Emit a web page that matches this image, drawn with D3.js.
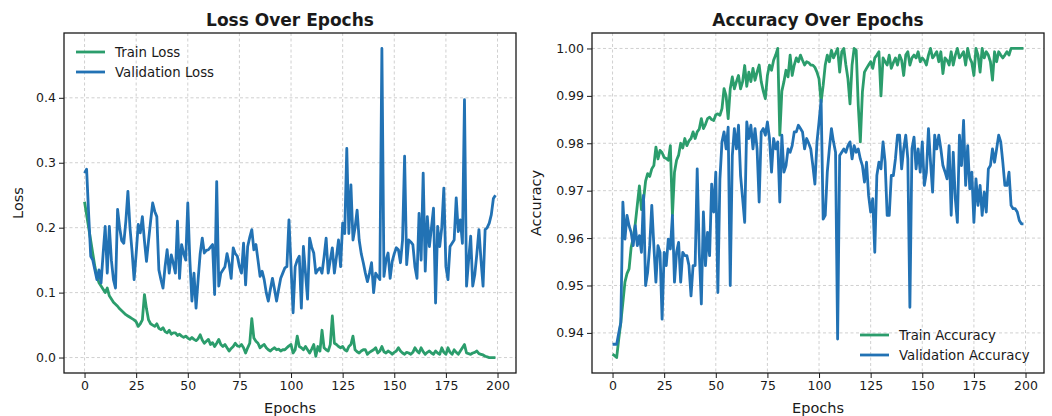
<!DOCTYPE html>
<html>
<head>
<meta charset="utf-8">
<script src="https://cdn.jsdelivr.net/npm/d3@7"></script>
<style>
body { margin: 0; background: #fff; }
text { font-family: "DejaVu Sans", sans-serif; fill: #1a1a1a; }
</style>
</head>
<body>
<svg id="chart" width="1052" height="416"></svg>
<script>
// ---- data ----
const trainLoss = [
  .24,.22,.2,.18,.16,.14,.125,.115,.11,.105,
  .1,.107,.095,.09,.085,.082,.079,.075,.072,.069,
  .066,.064,.062,.06,.058,.055,.048,.052,.058,.097,
  .075,.058,.052,.05,.048,.052,.045,.043,.046,.04,
  .038,.042,.036,.038,.038,.034,.036,.033,.031,.033,
  .03,.028,.031,.028,.026,.029,.035,.027,.022,.025,
  .028,.02,.023,.017,.022,.028,.02,.017,.02,.015,
  .01,.014,.017,.022,.018,.017,.02,.015,.007,.015,
  .022,.06,.03,.025,.022,.015,.018,.02,.015,.012,
  .01,.013,.015,.012,.013,.01,.012,.012,.015,.018,
  .02,.007,.012,.033,.017,.015,.012,.017,.012,.007,
  .013,.02,.002,.017,.01,.042,.015,.012,.01,.02,
  .064,.022,.02,.017,.015,.017,.012,.01,.017,.02,
  .033,.012,.009,.007,.01,.012,.012,.005,.008,.01,
  .012,.015,.007,.01,.017,.009,.007,.01,.008,.005,
  .008,.01,.015,.01,.007,.005,.008,.007,.005,.008,
  .015,.01,.007,.015,.009,.005,.008,.01,.007,.005,
  .01,.007,.005,.015,.008,.005,.015,.008,.005,.012,
  .008,.005,.01,.015,.02,.007,.006,.005,.007,.008,
  .01,.006,.005,.004,.002,.001,0,0,0,0
]

const valLoss = [
  .284,.29,.22,.156,.15,.135,.12,.135,.115,.16,
  .202,.13,.202,.15,.12,.107,.228,.2,.18,.176,
  .21,.256,.2,.164,.12,.16,.205,.192,.217,.18,
  .148,.18,.21,.238,.225,.217,.135,.12,.107,.14,
  .166,.13,.158,.145,.13,.21,.122,.174,.16,.15,
  .238,.15,.087,.13,.076,.12,.16,.184,.161,.165,
  .166,.17,.174,.097,.271,.11,.13,.135,.14,.16,
  .145,.122,.169,.16,.156,.14,.13,.176,.112,.171,
  .185,.197,.166,.174,.15,.125,.133,.12,.1,.087,
  .105,.122,.105,.087,.105,.122,.13,.138,.14,.212,
  .14,.069,.14,.15,.156,.076,.171,.13,.09,.184,
  .17,.161,.13,.135,.138,.13,.155,.184,.13,.15,
  .169,.13,.155,.181,.14,.207,.191,.322,.191,.266,
  .181,.2,.227,.181,.16,.146,.13,.117,.13,.146,
  .1,.13,.125,.12,.476,.125,.15,.161,.122,.148,
  .16,.169,.166,.146,.181,.31,.143,.181,.178,.174,
  .14,.122,.222,.15,.284,.133,.217,.171,.2,.23,
  .084,.202,.171,.2,.261,.14,.12,.171,.176,.181,
  .246,.194,.212,.176,.397,.11,.15,.187,.11,.128,
  .16,.197,.15,.11,.197,.2,.207,.22,.245,.25
]

const trainAcc = [
  .9355,.9352,.9348,.9387,.9422,.9464,.9507,.9525,.9535,.958,
  .96,.963,.967,.971,.966,.968,.972,.9736,.973,.9746,
  .9753,.9792,.9767,.9785,.978,.977,.9768,.9764,.9795,.9648,
  .9739,.9764,.9775,.98,.979,.981,.9795,.9805,.981,.9824,
  .981,.9824,.983,.9852,.9831,.984,.9852,.9855,.985,.9848,
  .986,.9862,.9859,.9873,.9915,.99,.9852,.9915,.994,.9915,
  .993,.9943,.9915,.993,.9964,.992,.995,.993,.9958,.9933,
  .995,.9965,.993,.991,.9894,.9943,.9965,.9954,.9975,.9986,
  1,.9817,.991,.993,.9954,.994,.9986,.9943,.9965,.998,
  .9972,.9986,.9975,.9965,.9972,.997,.9965,.9965,.996,.995,
  .9936,.9887,.9922,.9965,.9986,.9972,.9996,.998,.999,1,
  .995,.9993,1,.9965,.9936,.9883,.9965,1,.9996,.988,
  .9803,.9908,.995,.9958,.9965,.9972,.9958,.998,.9986,.9993,
  .99,.998,.9972,.9965,.9986,.9958,.997,.998,.9965,.9986,
  .9975,.9943,.9986,.9993,.9965,.998,.9986,.998,.9993,.9972,
  .998,.9975,.9965,.9986,1,.998,.9986,.9993,.9972,.9993,
  .9947,.998,.9975,.9965,.9993,.9965,.9986,1,.998,.9986,
  .9993,.9965,1,.998,.997,.9943,1,.9986,.995,1,
  .998,.9993,.9986,.9972,.9933,.9993,.9972,.9993,.9986,.998,
  .9986,.9993,.9986,1,1,1,1,1,1,1
]

const valAcc = [
  .9376,.9376,.9376,.94,.9422,.9676,.9598,.9648,.9626,.9612,
  .9584,.9626,.9584,.9605,.957,.969,.95,.9528,.9584,.9669,
  .9584,.9507,.9584,.957,.9429,.957,.9542,.9598,.9577,.9648,
  .9507,.957,.9591,.9507,.957,.9563,.9563,.9542,.9478,.9542,
  .9542,.9746,.957,.9461,.9655,.9542,.9612,.9563,.9714,.9655,
  .9739,.9485,.9725,.9803,.9824,.9788,.9834,.95,.9774,.9831,
  .9788,.9838,.9732,.9683,.9633,.9845,.981,.9838,.9788,.9831,
  .9788,.9676,.9824,.9831,.9817,.9845,.981,.9739,.981,.9788,
  .9803,.9676,.9817,.9739,.9753,.9788,.9781,.9795,.9824,.9824,
  .9838,.9831,.9824,.9788,.981,.98,.9788,.9753,.9714,.9803,
  .9845,.9891,.964,.9648,.9739,.9788,.9831,.9803,.9781,.9387,
  .9774,.9781,.9788,.9781,.9795,.9803,.9767,.9795,.9781,.9788,
  .9767,.9753,.9718,.976,.969,.9655,.9683,.957,.9732,.976,
  .9746,.9803,.976,.9648,.9648,.9732,.9732,.9767,.9817,.9817,
  .9746,.9788,.9817,.9767,.9454,.9788,.9813,.9746,.9788,.9739,
  .9803,.9711,.9739,.9831,.976,.9697,.9817,.9788,.9817,.9788,
  .9753,.974,.9725,.9795,.9648,.9781,.9683,.9633,.9817,.9753,
  .9848,.9711,.9795,.9704,.9739,.9633,.9725,.9669,.9711,.9648,
  .9697,.9655,.9746,.9753,.9788,.976,.9788,.9817,.9803,.976,
  .9711,.9711,.9739,.9669,.9662,.9662,.9655,.9637,.963,.963
]

const epochTicks = [0, 25, 50, 75, 100, 125, 150, 175, 200]
const lossTicks = [0.0, 0.1, 0.2, 0.3, 0.4]
const accTicks = [0.94, 0.95, 0.96, 0.97, 0.98, 0.99, 1.00]

const GREEN = "#2b9d6c",
      BLUE = "#2272b4"

const svg = d3.select("#chart")

const drawPanel = (opt) => {
    const top = 33, bottom = 373
    const g = svg.append("g")

    const x = d3.scaleLinear().domain([-9.95, 208.95]).range([opt.left, opt.right])
    const y = d3.scaleLinear().domain(opt.yDomain).range([bottom, top])

    // grid
    g.selectAll(".gx").data(epochTicks).enter().append("line")
        .attr("x1", d => x(d)).attr("x2", d => x(d))
        .attr("y1", top).attr("y2", bottom)
        .attr("stroke", "#c4c4c4").attr("stroke-width", 0.8)
        .attr("stroke-dasharray", "3,2.5")
    g.selectAll(".gy").data(opt.yTicks).enter().append("line")
        .attr("x1", opt.left).attr("x2", opt.right)
        .attr("y1", d => y(d)).attr("y2", d => y(d))
        .attr("stroke", "#c4c4c4").attr("stroke-width", 0.8)
        .attr("stroke-dasharray", "3,2.5")

    // series
    const line = d3.line().x((d, i) => x(i)).y(d => y(d))
    opt.series.forEach(s => {
        g.append("path").datum(s.values)
            .attr("d", line)
            .attr("fill", "none")
            .attr("stroke", s.color)
            .attr("stroke-width", 2.8)
            .attr("stroke-linejoin", "round")
    })

    // axes
    const xAxis = g.append("g").attr("transform", `translate(0,${bottom})`)
        .call(d3.axisBottom(x).tickValues(epochTicks).tickSize(5).tickPadding(3))
    const yAxis = g.append("g").attr("transform", `translate(${opt.left},0)`)
        .call(d3.axisLeft(y).tickValues(opt.yTicks).tickFormat(d3.format(opt.fmt)).tickSize(5).tickPadding(3))
    ;[xAxis, yAxis].forEach(a => {
        a.select(".domain").remove()
        a.selectAll("line").attr("stroke", "#1a1a1a").attr("stroke-width", 1)
        a.selectAll("text").style("font-size", "12.5px").attr("fill", "#1a1a1a")
            .style("font-family", "\"DejaVu Sans\", sans-serif")
    })

    // frame
    g.append("rect")
        .attr("x", opt.left).attr("y", top)
        .attr("width", opt.right - opt.left).attr("height", bottom - top)
        .attr("fill", "none").attr("stroke", "#1a1a1a").attr("stroke-width", 1.3)

    // titles and labels
    const cx = (opt.left + opt.right) / 2
    g.append("text").attr("x", cx).attr("y", 26)
        .attr("text-anchor", "middle")
        .style("font-size", "17px").style("font-weight", "bold")
        .text(opt.title)
    g.append("text").attr("x", cx).attr("y", 413)
        .attr("text-anchor", "middle")
        .style("font-size", "14.5px")
        .text("Epochs")
    g.append("text")
        .attr("transform", `translate(${opt.yLabelX},${(top + bottom) / 2}) rotate(-90)`)
        .attr("text-anchor", "middle")
        .style("font-size", "14.5px")
        .text(opt.yLabel)

    // legend
    opt.series.forEach((s, i) => {
        const ly = opt.legendY + i * 20
        g.append("line")
            .attr("x1", opt.legendX).attr("x2", opt.legendX + 29)
            .attr("y1", ly).attr("y2", ly)
            .attr("stroke", s.color).attr("stroke-width", 2.8)
        g.append("text")
            .attr("x", opt.legendX + 39).attr("y", ly)
            .attr("dy", "0.35em")
            .style("font-size", "13.3px")
            .text(s.name)
    })
}

drawPanel({
    left: 64, right: 516,
    yDomain: [-0.0238, 0.4998],
    yTicks: lossTicks, fmt: ".1f",
    title: "Loss Over Epochs", yLabel: "Loss", yLabelX: 23,
    legendX: 76, legendY: 52,
    series: [
        { name: "Train Loss", values: trainLoss, color: GREEN },
        { name: "Validation Loss", values: valLoss, color: BLUE }
    ]
})

drawPanel({
    left: 592, right: 1044,
    yDomain: [0.93154, 1.00326],
    yTicks: accTicks, fmt: ".2f",
    title: "Accuracy Over Epochs", yLabel: "Accuracy", yLabelX: 541,
    legendX: 860, legendY: 335,
    series: [
        { name: "Train Accuracy", values: trainAcc, color: GREEN },
        { name: "Validation Accuracy", values: valAcc, color: BLUE }
    ]
})
</script>
</body>
</html>
